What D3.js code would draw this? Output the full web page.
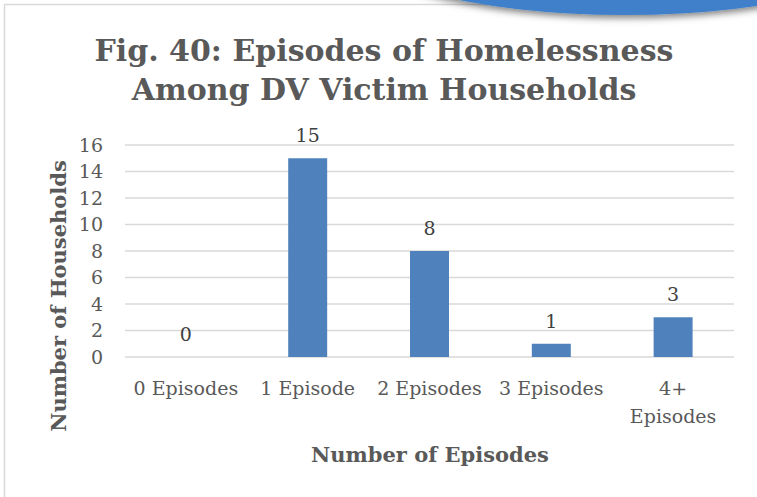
<!DOCTYPE html>
<html><head><meta charset="utf-8">
<script src="https://cdn.jsdelivr.net/npm/d3@7"></script>
<style>body{margin:0;background:#fff;} svg{display:block;}</style>
</head><body>
<svg id="c" width="757" height="497"></svg>
<script>
const categories = ["0 Episodes", "1 Episode", "2 Episodes", "3 Episodes", "4+ Episodes"];
const values = [0, 15, 8, 1, 3];
const yTicks = [0, 2, 4, 6, 8, 10, 12, 14, 16];
const titleLines = ["Fig. 40: Episodes of Homelessness", "Among DV Victim Households"];
const xTitle = "Number of Episodes";
const yTitle = "Number of Households";

const svg = d3.select("#c");
const serif = "'DejaVu Serif', 'Liberation Serif', serif";
const plot = {l:125, r:734, t:145, b:357};

// outer frame
svg.append("rect").attr("x",4.5).attr("y",4.5).attr("width",800).attr("height",600)
  .attr("fill","#fff").attr("stroke","#d9d9d9").attr("stroke-width",1.5);

// decorative blue shape top-right with shadow
const defs = svg.append("defs");
const f = defs.append("filter").attr("id","sh").attr("x","-20%").attr("y","-50%").attr("width","140%").attr("height","250%");
f.append("feDropShadow").attr("dx",0).attr("dy",3).attr("stdDeviation",3.5).attr("flood-color","#000").attr("flood-opacity",0.5);
svg.append("ellipse").attr("cx",625).attr("cy",-65).attr("rx",285).attr("ry",80)
  .attr("fill","#4080ca").attr("filter","url(#sh)");

const x = d3.scaleBand().domain(categories).range([plot.l, plot.r]).paddingInner(0).paddingOuter(0);
const y = d3.scaleLinear().domain([0,16]).range([plot.b, plot.t]);
const barW = x.bandwidth()*0.32;

// gridlines
svg.append("g").selectAll("line").data(yTicks).join("line")
  .attr("x1",plot.l).attr("x2",plot.r)
  .attr("y1",d=>y(d)).attr("y2",d=>y(d))
  .attr("stroke","#d9d9d9").attr("stroke-width",1.5);

// y tick labels
svg.append("g").selectAll("text").data(yTicks).join("text")
  .attr("x",103).attr("y",d=>y(d)).attr("dy","0.36em")
  .attr("text-anchor","end").attr("font-family",serif).attr("font-size",19)
  .attr("fill","#595959").text(d=>d);

// bars
svg.append("g").selectAll("rect").data(values).join("rect")
  .attr("x",(d,i)=>x(categories[i])+x.bandwidth()/2-barW/2)
  .attr("width",barW)
  .attr("y",d=>y(d)).attr("height",d=>y(0)-y(d))
  .attr("fill","#4f81bd");

// data labels
svg.append("g").selectAll("text").data(values).join("text")
  .attr("x",(d,i)=>x(categories[i])+x.bandwidth()/2)
  .attr("y",d=>y(d)-16)
  .attr("text-anchor","middle").attr("font-family",serif).attr("font-size",19)
  .attr("fill","#404040").text(d=>d);

// x labels
const xl = svg.append("g");
categories.forEach((c,i)=>{
  const cx = x(c)+x.bandwidth()/2;
  const t = xl.append("text").attr("x",cx).attr("y",395).attr("text-anchor","middle")
    .attr("font-family",serif).attr("font-size",19).attr("fill","#595959");
  if (c === "4+ Episodes") {
    t.append("tspan").attr("x",cx).attr("y",395).text("4+");
    t.append("tspan").attr("x",cx).attr("y",423).text("Episodes");
  } else t.text(c);
});

// title
svg.append("g").selectAll("text").data(titleLines).join("text")
  .attr("x",384).attr("y",(d,i)=>61+i*39).attr("text-anchor","middle")
  .attr("font-family",serif).attr("font-weight","bold").attr("font-size",30)
  .attr("fill","#595959").text(d=>d);

// axis titles
svg.append("text").attr("x",430).attr("y",462).attr("text-anchor","middle")
  .attr("font-family",serif).attr("font-weight","bold").attr("font-size",21)
  .attr("fill","#595959").text(xTitle);
svg.append("text").attr("transform","translate(66,296) rotate(-90)").attr("text-anchor","middle")
  .attr("font-family",serif).attr("font-weight","bold").attr("font-size",21)
  .attr("fill","#595959").text(yTitle);
</script>
</body></html>
